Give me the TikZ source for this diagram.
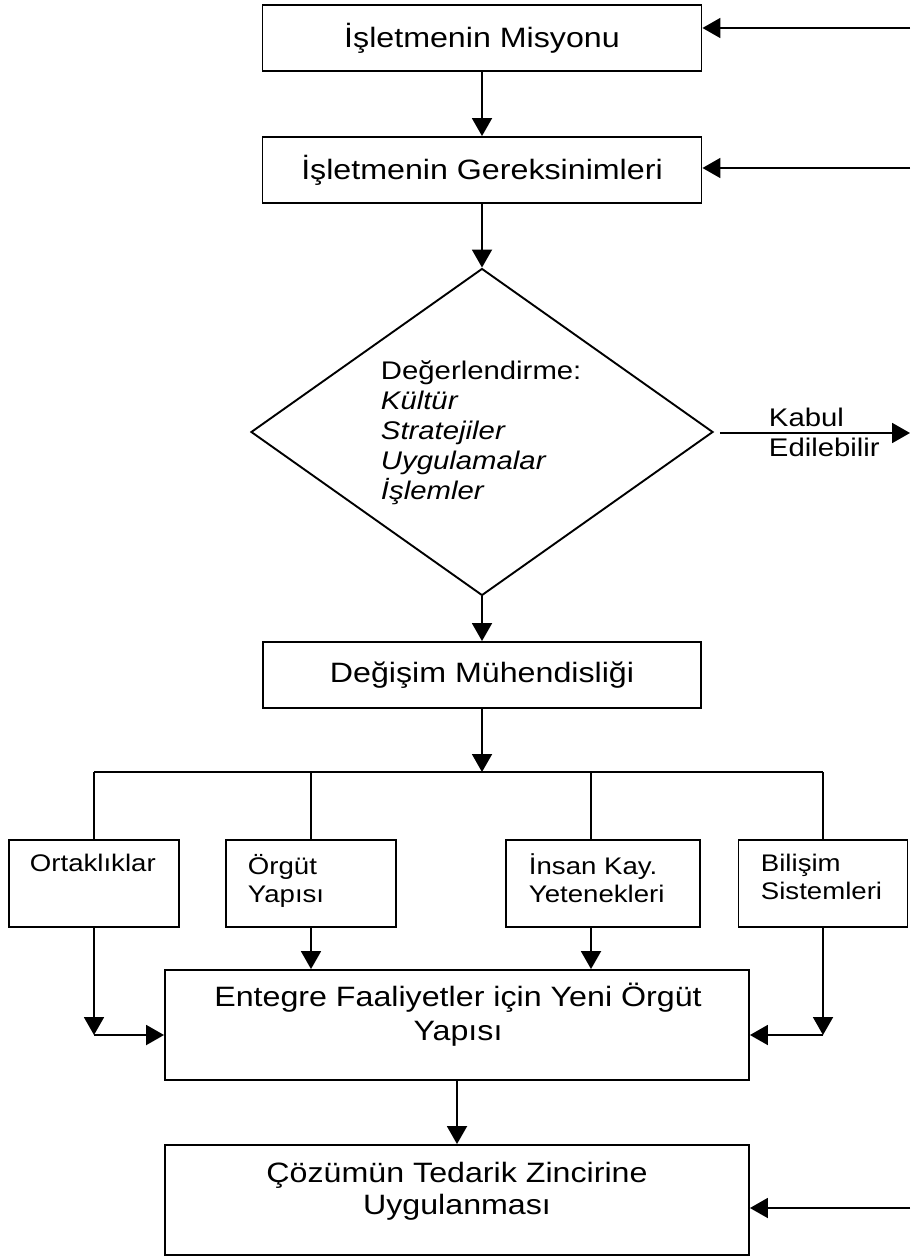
\documentclass[tikz,border=0pt]{standalone}
\usepackage{fontspec}
\setmainfont{Liberation Sans}[FakeStretch=1.15]
\usetikzlibrary{arrows.meta,shapes.geometric}

\begin{document}
\begin{tikzpicture}[x=1pt,y=-1pt,
  line width=1.9pt,
  arr/.style={-{Triangle[length=18pt,width=20pt]}},
  box/.style={draw, rectangle, inner sep=0pt},
  bigtext/.style={font=\fontsize{28}{34}\selectfont, align=center, inner sep=0pt},
  dtext/.style={font=\fontsize{25.5}{30}\selectfont, align=left, inner sep=0pt},
  smalltext/.style={font=\fontsize{24}{28}\selectfont, align=left, inner sep=0pt, anchor=north west}
]
\useasboundingbox (0,0) rectangle (910,1257);

% main column
\node[box, minimum width=439pt, minimum height=66pt, bigtext] (b1) at (482,38) {İşletmenin Misyonu};
\node[box, minimum width=439pt, minimum height=66pt, bigtext] (b2) at (482,170) {İşletmenin Gereksinimleri};
\node[draw, diamond, inner sep=0pt, minimum width=462pt, minimum height=327pt] (dia) at (482,432) {};
\node[dtext, anchor=west] (diat) at (380,433) {Değerlendirme:\\\itshape Kültür\\\itshape Stratejiler\\\itshape Uygulamalar\\\itshape İşlemler};
\node[box, minimum width=438pt, minimum height=66pt, bigtext] (dm) at (482,675) {Değişim Mühendisliği};

% four branches
\node[box, minimum width=170pt, minimum height=87pt] (orta) at (94,883.5) {};
\node[box, minimum width=170pt, minimum height=87pt] (org) at (311,883.5) {};
\node[box, minimum width=194pt, minimum height=87pt] (ins) at (603,883.5) {};
\node[box, minimum width=169pt, minimum height=87pt] (bil) at (823,883.5) {};
\node[smalltext] (ortat) at (29,853) {Ortaklıklar};
\node[smalltext] (orgt) at (247,853) {Örgüt\\Yapısı};
\node[smalltext] (inst) at (528,853) {İnsan Kay.\\Yetenekleri};
\node[smalltext] (bilt) at (760,853) {Bilişim\\Sistemleri};

% lower boxes
\node[box, minimum width=584pt, minimum height=110pt] (ent) at (457,1025) {};
\node[bigtext] (entt) at (458,1015) {Entegre Faaliyetler için Yeni Örgüt\\Yapısı};
\node[box, minimum width=584pt, minimum height=110pt] (coz) at (457,1200) {};
\node[bigtext, font=\fontsize{28}{32}\selectfont] (cozt) at (457,1191) {Çözümün Tedarik Zincirine\\Uygulanması};

% acceptance exit
\node[dtext, anchor=west] (kabul) at (768,432) {Kabul\\Edilebilir};

% helper points
\coordinate (r1) at (910,28);
\coordinate (r2) at (910,168);
\coordinate (r3) at (910,1208);
\coordinate (ok) at (910,433);
\coordinate (bus) at (482,772);
\coordinate (ik) at (591,772);
\coordinate (lc) at (orta.south |- 0,1035);
\coordinate (rc) at (bil.south |- 0,1035);

% connectors
\draw[arr] (b1) -- (b2);
\draw[arr] (b2) -- (dia);
\draw[arr] (dia) -- (dm);
\draw[arr] (dm) -- (bus);
\draw (orta.north |- bus) -- (bil.north |- bus);
\draw (orta.north |- bus) -- (orta.north);
\draw (org.north |- bus) -- (org.north);
\draw (ik) -- (ik |- ins.north);
\draw (bil.north |- bus) -- (bil.north);

\draw[arr] (orta) -- (lc);
\draw[arr] (lc) -- (lc -| ent.west);
\draw[arr] (bil) -- (rc);
\draw[arr] (rc) -- (rc -| ent.east);
\draw[arr] (org) -- (org.south |- ent.north);
\draw[arr] (ik |- ins.south) -- (ik |- ent.north);
\draw[arr] (ent) -- (coz);

\draw[arr] (r1) -- (r1 -| b1.east);
\draw[arr] (r2) -- (r2 -| b2.east);
\draw[arr] (r3) -- (r3 -| coz.east);
\draw[arr, shorten <=6pt] (dia.east |- ok) -- (ok);
\end{tikzpicture}
\end{document}
